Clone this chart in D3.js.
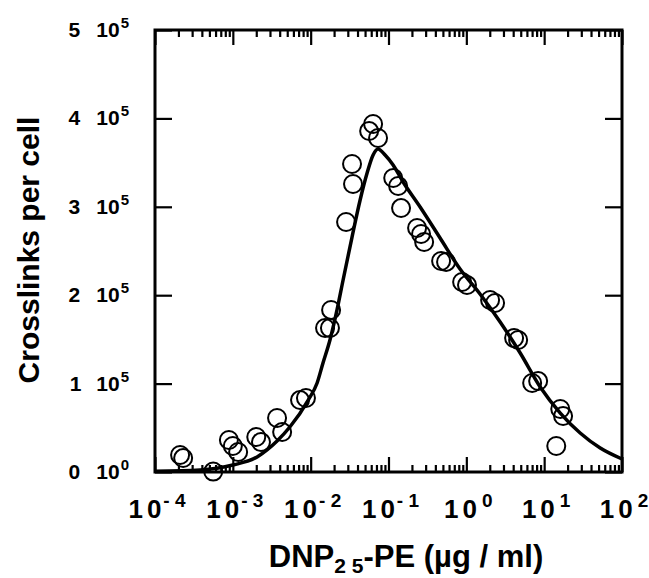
<!DOCTYPE html>
<html>
<head>
<meta charset="utf-8">
<script src="https://cdn.jsdelivr.net/npm/d3@7"></script>
<style>
  body { margin: 0; background: #fff; }
  text { font-family: "Liberation Sans", Arial, Helvetica, sans-serif; font-weight: bold; fill: #000; }
</style>
</head>
<body>
<svg id="drawing_region"></svg>
<script>
// measured points (DNP25-PE ug/ml, crosslinks per cell)
const obsX = [2.1e-4, 2.3e-4, 5.6e-4, 8.9e-4, 1.0e-3, 1.17e-3, 2.0e-3, 2.3e-3, 3.7e-3, 4.3e-3,
              7.3e-3, 8.7e-3, 0.0153, 0.0177, 0.0183, 0.0285, 0.034, 0.035, 0.0564, 0.0634,
              0.0734, 0.115, 0.133, 0.145, 0.233, 0.262, 0.287, 0.474, 0.549, 0.883,
              1.02, 2.02, 2.34, 4.11, 4.63, 7.01, 8.37, 14.3, 16.1, 17.5];
const obsY = [19200, 15800, 500, 36200, 29400, 22600, 39600, 33900, 61100, 45200,
              81400, 83700, 162900, 162900, 183300, 282800, 348400, 325800, 385700, 393700,
              377800, 332600, 323500, 298600, 276000, 269200, 260200, 238700, 237600, 214900,
              211500, 194600, 191200, 151600, 149300, 100700, 102900, 29400, 71300, 63300];

// fitted model curve
const fitX = [1e-4, 3.8e-4, 1.0e-3, 2.05e-3, 2.75e-3, 3.7e-3, 5.4e-3, 9.3e-3, 0.0121, 0.0144,
              0.0177, 0.0218, 0.0261, 0.034, 0.0432, 0.0531, 0.0634, 0.0734, 0.0904, 0.1146,
              0.154, 0.255, 0.46, 0.83, 1.5, 2.72, 4.92, 8.89, 16.1, 29.0, 52.5, 100];
const fitY = [800, 2300, 7900, 17000, 25000, 35100, 50900, 81400, 100700, 123300,
              149300, 183300, 217200, 265800, 307700, 338200, 358600, 365400, 358600, 347300,
              328100, 299800, 264700, 229600, 201400, 169700, 134600, 96200, 66700, 44100, 27100, 14700];

const xTicks = [1e-4, 1e-3, 1e-2, 1e-1, 1, 10, 100];
const xExp = ["- 4", "- 3", "- 2", "- 1", "0", "1", "2"];
const yTicks = [0, 1e5, 2e5, 3e5, 4e5, 5e5];
const yMant = ["0", "1", "2", "3", "4", "5"];
const yExp = ["0", "5", "5", "5", "5", "5"];

const config = { width: 649, height: 578, left: 155, right: 622, top: 30, bottom: 472 };

const svg = d3.select('#drawing_region')
    .attr('width', config.width)
    .attr('height', config.height);

const xscale = d3.scaleLog().domain([1e-4, 1e2]).range([config.left, config.right]);
const yscale = d3.scaleLinear().domain([0, 5e5]).range([config.bottom, config.top]);

// minor ticks 2..9 in every decade
const minor = [];
xTicks.slice(0, -1).forEach(d => { for (let k = 2; k <= 9; k++) minor.push(d * k); });

function styleAxis(g) {
    g.select('.domain').remove();
    g.selectAll('line').attr('stroke', '#000').attr('stroke-width', 2.2);
}

svg.append('g').attr('transform', `translate(0,${config.bottom})`)
    .call(d3.axisBottom(xscale).tickValues(xTicks).tickSize(-15).tickFormat(''))
    .call(styleAxis);
svg.append('g').attr('transform', `translate(0,${config.bottom})`)
    .call(d3.axisBottom(xscale).tickValues(minor).tickSize(-7).tickFormat(''))
    .call(styleAxis);
svg.append('g').attr('transform', `translate(0,${config.top})`)
    .call(d3.axisTop(xscale).tickValues(xTicks).tickSize(-15).tickFormat(''))
    .call(styleAxis);
svg.append('g').attr('transform', `translate(0,${config.top})`)
    .call(d3.axisTop(xscale).tickValues(minor).tickSize(-7).tickFormat(''))
    .call(styleAxis);
svg.append('g').attr('transform', `translate(${config.left},0)`)
    .call(d3.axisLeft(yscale).tickValues(yTicks).tickSize(-17).tickFormat(''))
    .call(styleAxis);
svg.append('g').attr('transform', `translate(${config.right},0)`)
    .call(d3.axisRight(yscale).tickValues(yTicks).tickSize(-17).tickFormat(''))
    .call(styleAxis);

// frame
svg.append('rect')
    .attr('x', config.left).attr('y', config.top)
    .attr('width', config.right - config.left).attr('height', config.bottom - config.top)
    .attr('fill', 'none').attr('stroke', '#000').attr('stroke-width', 3);

// x tick labels
const xl = svg.append('g').selectAll('text').data(xTicks).enter().append('text')
    .attr('x', d => xscale(d) + 2).attr('y', 518)
    .attr('text-anchor', 'middle')
    .style('font-size', '26px');
xl.append('tspan').style('letter-spacing', '4px').text('10');
xl.append('tspan').attr('dy', -11).style('font-size', '19px')
    .attr('dx', (d, i) => xExp[i].startsWith('-') ? -2 : 1)
    .text((d, i) => xExp[i]);

// y tick labels
const yl = svg.append('g').selectAll('text').data(yTicks).enter().append('text')
    .attr('x', 129).attr('y', d => yscale(d) + 7)
    .attr('text-anchor', 'end')
    .style('font-size', '21px');
yl.append('tspan').text((d, i) => yMant[i]);
yl.append('tspan').attr('dx', 16).text('10');
yl.append('tspan').attr('dy', -9).attr('dx', 1).style('font-size', '15px').text((d, i) => yExp[i]);

// fitted curve
const line = d3.line()
    .x((d, i) => xscale(fitX[i]))
    .y((d, i) => yscale(fitY[i]))
    .curve(d3.curveMonotoneX);
svg.append('path')
    .datum(fitX)
    .attr('d', line)
    .attr('fill', 'none').attr('stroke', '#000').attr('stroke-width', 3.5);

// measured points
svg.append('g').selectAll('circle').data(obsX).enter().append('circle')
    .attr('cx', d => xscale(d))
    .attr('cy', (d, i) => yscale(obsY[i]))
    .attr('r', 9)
    .attr('fill', 'none').attr('stroke', '#000').attr('stroke-width', 2);

// axis titles
svg.append('text')
    .attr('transform', 'translate(39,250) rotate(-90)')
    .attr('text-anchor', 'middle')
    .style('font-size', '30px')
    .text('Crosslinks per cell');

const xt = svg.append('text')
    .attr('x', 406).attr('y', 567)
    .attr('text-anchor', 'middle')
    .style('font-size', '31px');
xt.append('tspan').text('DNP');
xt.append('tspan').attr('dy', 6).style('font-size', '21px').text('2 5');
xt.append('tspan').attr('dy', -6).text('-PE (\u00b5g / ml)');
</script>
</body>
</html>
